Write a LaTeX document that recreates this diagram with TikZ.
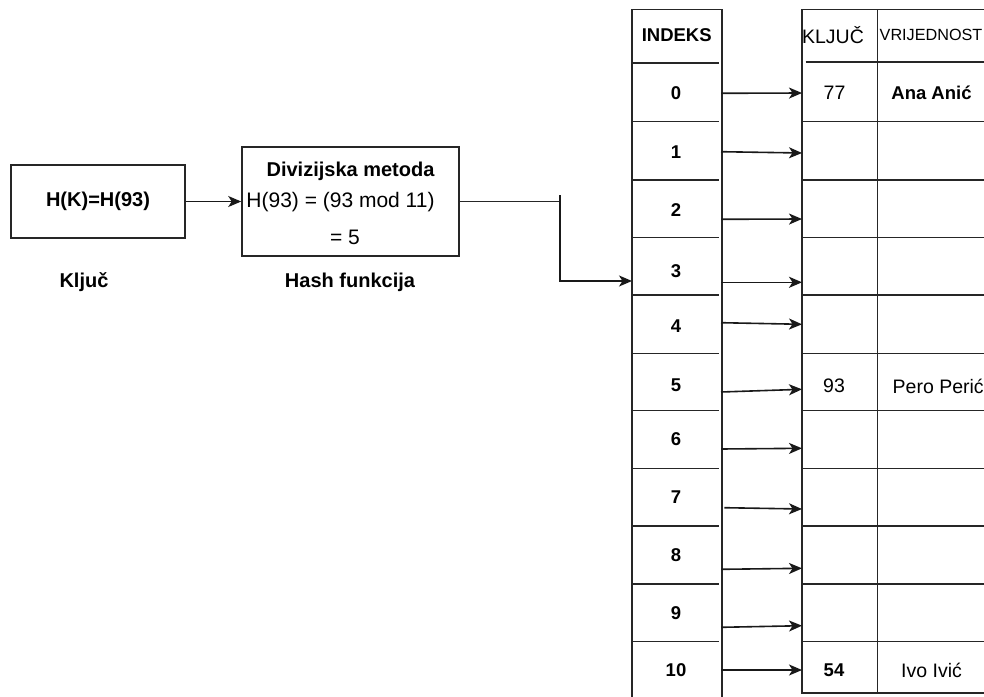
\documentclass[tikz,border=0pt]{standalone}
\usepackage{fontspec}
\setmainfont{Liberation Sans}
\usetikzlibrary{arrows.meta}
\begin{document}
\begin{tikzpicture}[x=1pt,y=-1pt,
  box/.style={draw=black!85,line width=1.6pt,inner sep=0pt},
  arr/.style={draw=black!90,line width=1.6pt,-{Stealth[length=13pt,width=11pt,inset=3.5pt]}},
  tline/.style={draw=black!85,line width=1.4pt},
  bigtxt/.style={font=\fontsize{21}{25}\selectfont,inner sep=0pt},
  bigbold/.style={font=\fontsize{20}{24}\selectfont\bfseries,inner sep=0pt},
  celltxt/.style={font=\fontsize{19.5}{23}\selectfont,inner sep=0pt},
  cellbold/.style={font=\fontsize{18.5}{22}\selectfont\bfseries,inner sep=0pt},
  hdrsmall/.style={font=\fontsize{16.2}{20}\selectfont,inner sep=0pt}]
\useasboundingbox (0,0) rectangle (984,696);
\fill[white] (0,0) rectangle (984,696);
\clip (0,0) rectangle (984,696);

% left boxes
\node[box,minimum width=174pt,minimum height=73pt,bigbold] (key) at (98,201.5) {H(K)=H(93)};
\node[bigbold] (keylbl) at (84,282) {Ključ};
\node[box,minimum width=217pt,minimum height=109pt] (hash) at (350.5,201.5) {};
\node[bigbold] (h1) at (350.5,171) {Divizijska metoda};
\node[bigtxt] (h2) at (340.5,202) {H(93) = (93 mod 11)};
\node[bigtxt] (h3) at (345,237) {= 5};
\node[bigbold] (hashlbl) at (350,282) {Hash funkcija};

\draw[arr] (key.east) -- (hash.west);
\coordinate (bend) at (560,201.5);
\coordinate (tick) at (560,195);
\coordinate (in3) at (632,281);
\draw[tline,line width=1.6pt] (hash.east) -- (bend);
\draw[arr] (tick) |- (in3);

% index column
\draw[tline] (632,9.5) rectangle (722,705);
\foreach \yy in {63,121.7,180,237.5,295,353.3,410.7,468.3,526,584,641.7}
  \draw[tline] (632,\yy) -- (719,\yy);
\node[cellbold] (indeks) at (676.7,35) {INDEKS};
\foreach \i/\yy in {0/93,1/151.7,2/210,3/270.7,4/326,5/385.7,6/439,7/496.7,8/555,9/613.3,10/670}
  \node[cellbold] (idx\i) at (676,\yy) {\i};

% key/value table
\draw[tline] (802,9.5) rectangle (1010,693);
\draw[tline] (877.7,9.5) -- (877.7,693);
\draw[tline] (805.5,62) -- (1010,62);
\foreach \yy in {121.7,180,237.5,295,353.3,410.7,468.3,526,584,641.7}
  \draw[tline] (802,\yy) -- (1010,\yy);
\node[celltxt] (hk) at (833,35) {KLJUČ};
\node[hdrsmall,anchor=west] (hv) at (879.5,35) {VRIJEDNOST};
\node[celltxt] (k0) at (834.5,93) {77};
\node[cellbold] (v0) at (931.5,93) {Ana Anić};
\node[celltxt] (k5) at (834,386) {93};
\node[celltxt,anchor=west] (v5) at (892.5,386) {Pero Perić};
\node[cellbold] (k10) at (834,670) {54};
\node[celltxt] (v10) at (931.5,670) {Ivo Ivić};

% arrows index -> table
\foreach \i/\xs/\ys/\ye in {0/721/93.3/93,1/721/151.7/153,2/721/219.3/219,3/721/282.3/282.3,4/721/322.7/324.3,5/721/392/389.3,6/721/449/448.3,7/724.3/507.7/509,8/721/569.3/568.3,9/721/627.3/625.7,10/721/670/670}{
  \coordinate (s\i) at (\xs,\ys);
  \coordinate (e\i) at (802,\ye);
  \draw[arr] (s\i) -- (e\i);
}
\end{tikzpicture}
\end{document}
